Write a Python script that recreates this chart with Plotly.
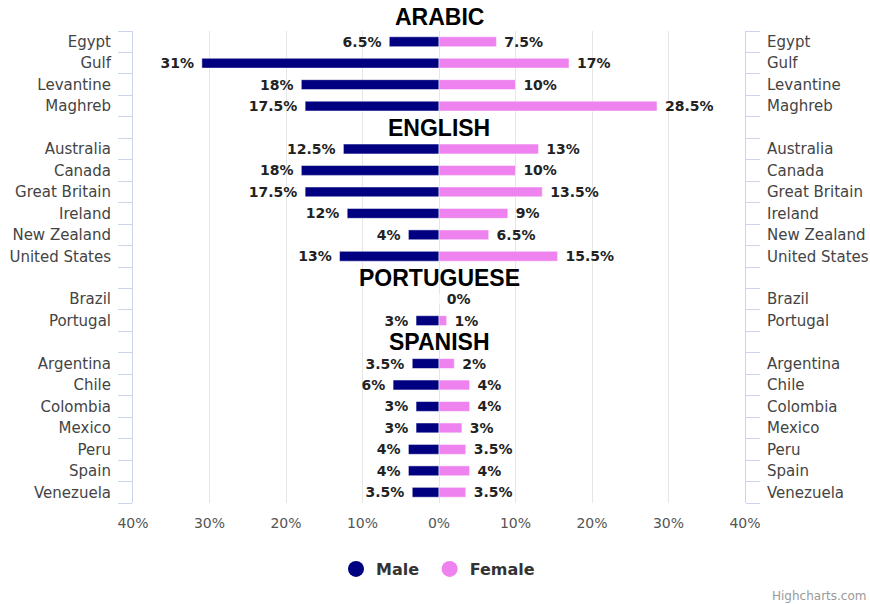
import plotly.graph_objects as go

categories = ["Egypt", "Gulf", "Levantine", "Maghreb", "",
              "Australia", "Canada", "Great Britain", "Ireland", "New Zealand", "United States", "",
              "Brazil", "Portugal", "",
              "Argentina", "Chile", "Colombia", "Mexico", "Peru", "Spain", "Venezuela"]
male = [6.5, 31, 18, 17.5, None,
        12.5, 18, 17.5, 12, 4, 13, None,
        0, 3, None,
        3.5, 6, 3, 3, 4, 4, 3.5]
female = [7.5, 17, 10, 28.5, None,
          13, 10, 13.5, 9, 6.5, 15.5, None,
          0, 1, None,
          2, 4, 4, 3, 3.5, 4, 3.5]
groups = ["ARABIC", "ENGLISH", "PORTUGUESE", "SPANISH"]
x_ticks = [-40, -30, -20, -10, 0, 10, 20, 30, 40]

MALE_C = "#000080"
FEMALE_C = "#ee82ee"
NB = "\u00a0"

rows = list(range(len(categories)))
group_rows = [i for i, c in enumerate(categories) if c == ""]

male_x = [(-v if v is not None else None) for v in male]
male_text = [(f"{v:g}%" + NB if (v is not None and v != 0) else "") for v in male]
female_text = [(NB + f"{v:g}%" if v is not None else "") for v in female]

fig = go.Figure()
fig.add_trace(go.Bar(
    x=male_x, y=rows, orientation="h", name="Male",
    marker=dict(color=MALE_C, line=dict(color="#ffffff", width=0.5)),
    width=0.46, text=male_text, textposition="outside", constraintext="none",
    cliponaxis=False, showlegend=False, hoverinfo="skip",
    textfont=dict(family="DejaVu Sans", size=14, color="#222222", weight="bold"),
))
fig.add_trace(go.Bar(
    x=female, y=rows, orientation="h", name="Female",
    marker=dict(color=FEMALE_C, line=dict(color="#ffffff", width=0.5)),
    width=0.46, text=female_text, textposition="outside", constraintext="none",
    cliponaxis=False, showlegend=False, hoverinfo="skip",
    textfont=dict(family="DejaVu Sans", size=14, color="#222222", weight="bold"),
))
# legend entries with circle symbols
fig.add_trace(go.Scatter(x=[None], y=[None], mode="markers", name="Male" + NB,
                         marker=dict(color=MALE_C, size=16, symbol="circle")))
fig.add_trace(go.Scatter(x=[None], y=[None], mode="markers", name="Female",
                         marker=dict(color=FEMALE_C, size=16, symbol="circle")))
# carrier for the right-hand category axis
fig.add_trace(go.Scatter(x=[None] * len(rows), y=rows, yaxis="y2", mode="markers",
                         showlegend=False, hoverinfo="skip"))

yax = dict(
    range=[len(categories) - 0.5, -0.5],
    tickmode="array", tickvals=rows, ticktext=categories,
    ticks="outside", ticklen=14, tickcolor="rgba(0,0,0,0)",
    ticklabelstandoff=4, automargin=False,
    showline=True, linecolor="#ccd6eb", linewidth=1,
    showgrid=False, zeroline=False,
    tickfont=dict(family="DejaVu Sans", size=15, color="#444444"),
    minor=dict(ticks="outside", ticklen=14, tickcolor="#ccd6eb", tickwidth=1,
               tickmode="linear", tick0=0.5, dtick=1, showgrid=False),
    fixedrange=True,
)

hfont = dict(family="Liberation Sans", size=23, color="#000000")
annotations = [dict(
    x=0, y=1, xref="x", yref="y domain", yanchor="middle", yshift=14,
    text=f"<b>{groups[0]}</b>", showarrow=False, font=hfont,
)]
for g, r in zip(groups[1:], group_rows):
    annotations.append(dict(
        x=0, y=r, xref="x", yref="y", text=f"<b>{g}</b>", showarrow=False,
        font=hfont,
    ))
annotations.append(dict(
    x=(868 - 133) / 612, y=(503 - 596) / 472, xref="paper", yref="paper",
    xanchor="right", yanchor="middle", text="Highcharts.com", showarrow=False,
    font=dict(family="DejaVu Sans", size=12, color="#999999"),
))

fig.update_layout(
    width=870, height=604, autosize=False,
    margin=dict(l=133, r=125, t=31, b=101, autoexpand=False),
    paper_bgcolor="#ffffff", plot_bgcolor="#ffffff",
    barmode="overlay",
    xaxis=dict(
        range=[-40, 40], tickmode="array", tickvals=x_ticks,
        ticktext=[f"{abs(t)}%" for t in x_ticks],
        showgrid=True, gridcolor="#e6e6e6", gridwidth=1,
        zeroline=False, showline=False, ticks="",
        ticklabelstandoff=10, automargin=False,
        tickfont=dict(family="DejaVu Sans", size=14, color="#555555"),
        fixedrange=True,
    ),
    yaxis=yax,
    yaxis2=dict(yax, overlaying="y", side="right", anchor="x"),
    legend=dict(orientation="h", x=(438 - 133) / 612, xanchor="center",
                y=(503 - 569) / 472, yanchor="middle",
                font=dict(family="DejaVu Sans", size=16, color="#333333", weight="bold")),
    annotations=annotations,
    showlegend=True,
    hovermode=False,
)

fig.write_html("out.html", config={"displayModeBar": False},
               post_script="document.body.style.margin='0';")
